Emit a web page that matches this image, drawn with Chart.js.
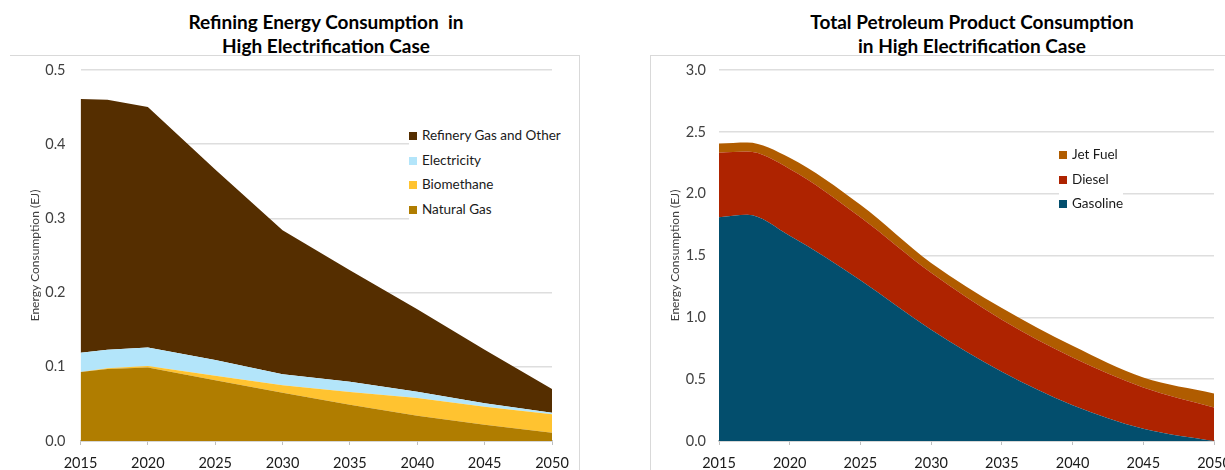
<!DOCTYPE html>
<html>
<head>
<meta charset="utf-8">
<script src="https://cdn.jsdelivr.net/npm/chart.js@4.4.1/dist/chart.umd.min.js"></script>
<style>
  body { margin: 0; width: 1225px; height: 470px; overflow: hidden; background: #fff; position: relative; font-family: Lato, sans-serif; }
  .titulo { position: absolute; top: 10px; width: 400px; text-align: center; font-weight: bold; font-size: 19px; line-height: 24px; color: #000; }
  .marco { position: absolute; top: 55px; border-color: #d9d9d9; border-style: solid; border-width: 0; }
  .lienzo { position: absolute; top: 0; height: 470px; }
  .leyenda { position: absolute; font-size: 13.5px; color: #1a1a1a; background: #fff; }
  .leyenda div { height: 24.7px; line-height: 24.7px; white-space: nowrap; }
  .leyenda span { display: inline-block; width: 8px; height: 8px; margin-right: 5px; vertical-align: 0px; }
</style>
</head>
<body>
<div class="marco" style="left:10px; width:569px; height:420px; border-top-width:1px; border-right-width:1px;"></div>
<div class="marco" style="left:650px; width:600px; height:420px; border-top-width:1px; border-left-width:1px;"></div>
<div class="titulo" style="left:126px;">Refining Energy Consumption &nbsp;in<br>High Electrification Case</div>
<div class="titulo" style="left:772px;">Total Petroleum Product Consumption<br>in High Electrification Case</div>
<div class="lienzo" style="left:0; width:600px;"><canvas id="izq" width="600" height="470"></canvas></div>
<div class="lienzo" style="left:610px; width:640px;"><canvas id="der" width="640" height="470"></canvas></div>
<div class="leyenda" id="leyIzq" style="left:409px; top:123px;"></div>
<div class="leyenda" id="leyDer" style="left:1059px; top:142px;"></div>
<script>
// años con datos (mismos para las dos gráficas)
const anios = [2015, 2017, 2020, 2025, 2030, 2035, 2040, 2045, 2050];

// refinación (EJ)
const gasNatural = [0.093, 0.097, 0.099, 0.082, 0.065, 0.049, 0.034, 0.022, 0.011];
const biometano = [0.000, 0.001, 0.002, 0.006, 0.010, 0.017, 0.024, 0.024, 0.025];
const electricidad = [0.026, 0.025, 0.025, 0.021, 0.015, 0.014, 0.0085, 0.005, 0.002];
const gasRefineria = [0.342, 0.337, 0.324, 0.257, 0.194, 0.150, 0.111, 0.072, 0.032];

// productos del petróleo (EJ)
const gasolina = [1.81, 1.83, 1.66, 1.30, 0.90, 0.56, 0.29, 0.10, 0.00];
const diesel = [0.52, 0.51, 0.54, 0.51, 0.46, 0.42, 0.385, 0.333, 0.27];
const jetFuel = [0.075, 0.074, 0.09, 0.10, 0.08, 0.095, 0.095, 0.08, 0.115];

const gris = '#404040';

const serie = (label, valores, color, primera, curva) => ({
    label: label,
    data: valores.map((v, i) => ({ x: anios[i], y: v })),
    backgroundColor: color,
    borderWidth: 0,
    pointRadius: 0,
    fill: primera ? 'origin' : '-1',
    cubicInterpolationMode: curva ? 'monotone' : 'default',
    tension: 0
});

const opciones = (maxY, paso, izq, der, anchoY, padY) => ({
    responsive: false,
    animation: false,
    layout: { padding: { top: 70, left: izq, right: der, bottom: 0 } },
    plugins: { legend: { display: false }, tooltip: { enabled: false } },
    scales: {
        x: {
            type: 'linear', min: 2015, max: 2050,
            afterFit: (s) => { s.height = 29; },
            border: { color: '#bfbfbf', width: 1.5 },
            grid: { drawOnChartArea: false, drawTicks: true, tickLength: 4, color: '#bfbfbf' },
            ticks: { stepSize: 5, padding: 10, color: '#1a1a1a', font: { family: 'Lato', size: 14.5 }, callback: (v) => String(v) }
        },
        y: {
            stacked: true, min: 0, max: maxY,
            afterFit: (s) => { s.width = anchoY; },
            border: { display: false },
            grid: { color: '#dedede', lineWidth: 1.5, drawTicks: false },
            ticks: { stepSize: paso, padding: padY, color: gris, font: { family: 'Lato', size: 14.5 }, callback: (v) => v.toFixed(1) },
            title: { display: true, text: 'Energy Consumption (EJ)', color: gris, font: { family: 'Lato', size: 12 }, padding: 0 }
        }
    }
});

const graficoIzq = new Chart(document.querySelector('#izq').getContext('2d'), {
    type: 'line',
    data: {
        datasets: [
            serie('Natural Gas', gasNatural, '#b07d00', true, false),
            serie('Biomethane', biometano, '#ffc330', false, false),
            serie('Electricity', electricidad, '#b3e5fa', false, false),
            serie('Refinery Gas and Other', gasRefineria, '#552e00', false, false)
        ]
    },
    options: opciones(0.5, 0.1, 28, 48, 52.5, 15)
});

const graficoDer = new Chart(document.querySelector('#der').getContext('2d'), {
    type: 'line',
    data: {
        datasets: [
            serie('Gasoline', gasolina, '#034e6d', true, true),
            serie('Diesel', diesel, '#ae2300', false, true),
            serie('Jet Fuel', jetFuel, '#b05c00', false, true)
        ]
    },
    options: opciones(3.0, 0.5, 58, 36, 51, 13)
});

// leyendas en orden inverso (serie de arriba primero)
const armarLeyenda = (grafico, id) => {
    const caja = document.querySelector(id);
    grafico.data.datasets.slice().reverse().forEach((d) => {
        const fila = document.createElement('div');
        fila.innerHTML = `<span style="background:${d.backgroundColor}"></span>${d.label}`;
        caja.appendChild(fila);
    });
};
armarLeyenda(graficoIzq, '#leyIzq');
armarLeyenda(graficoDer, '#leyDer');
</script>
</body>
</html>
